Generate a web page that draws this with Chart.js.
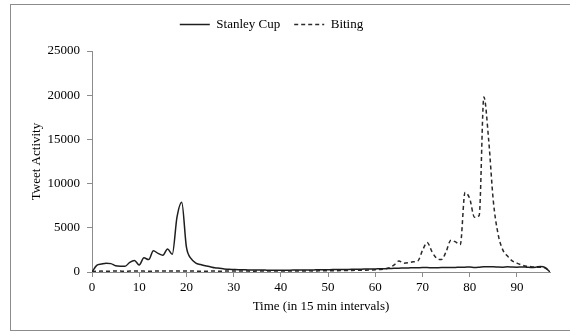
<!DOCTYPE html>
<html lang="en">
<head>
    <meta charset="UTF-8">
    <title>Tweet Activity</title>
    <script src="https://cdn.jsdelivr.net/npm/chart.js@4.4.0/dist/chart.umd.min.js"></script>
    <style>
        body { margin: 0; background: #fff; overflow: hidden; }
        .frame { position: absolute; left: 10px; top: 4px; width: 600px; height: 325px; border: 1px solid #8c8c8c; }
        .chart-box { position: absolute; left: 0; top: 0; width: 570px; height: 335px; }
    </style>
</head>
<body>
    <div class="frame"></div>
    <div class="chart-box">
        <canvas id="tweets"></canvas>
    </div>

    <script>
        // x = 15 minute interval index
        const intervals = [
            0, 1, 2, 3, 4, 5, 6, 7, 8, 9, 10, 11, 12, 13, 14, 15, 16, 17, 18, 19,
            20, 21, 22, 23, 24, 25, 26, 27, 28, 29, 30, 31, 32, 33, 34, 35, 36, 37, 38, 39,
            40, 41, 42, 43, 44, 45, 46, 47, 48, 49, 50, 51, 52, 53, 54, 55, 56, 57, 58, 59,
            60, 61, 62, 63, 64, 65, 66, 67, 68, 69, 70, 71, 72, 73, 74, 75, 76, 77, 78, 79,
            80, 81, 82, 83, 84, 85, 86, 87, 88, 89, 90, 91, 92, 93, 94, 95, 96, 97
        ];

        const stanleyCup = [
            0, 750, 900, 1000, 950, 700, 650, 650, 1100, 1300,
            800, 1600, 1400, 2400, 2100, 1900, 2600, 2000, 6200, 7900,
            2800, 1500, 1000, 850, 700, 600, 480, 420, 350, 300,
            280, 260, 250, 240, 230, 220, 220, 210, 200, 200,
            200, 210, 210, 220, 220, 230, 230, 240, 250, 250,
            260, 270, 270, 280, 290, 300, 300, 320, 330, 340,
            350, 370, 380, 400, 420, 430, 450, 460, 480, 490,
            500, 500, 480, 490, 500, 520, 500, 520, 540, 550,
            560, 520, 550, 600, 580, 600, 560, 550, 580, 560,
            550, 570, 550, 520, 550, 620, 500, 0
        ];

        const biting = [
            50, 80, 100, 90, 100, 110, 100, 90, 100, 110,
            100, 100, 90, 100, 110, 100, 100, 100, 110, 120,
            110, 100, 100, 90, 90, 100, 100, 90, 100, 100,
            100, 110, 100, 100, 90, 100, 100, 110, 100, 100,
            100, 110, 110, 120, 110, 120, 130, 120, 130, 140,
            140, 150, 150, 160, 170, 180, 190, 200, 210, 230,
            250, 280, 340, 480, 800, 1250, 1000, 1050, 1150, 1250,
            2450, 3350, 2300, 1550, 1400, 2300, 3600, 3400, 3100, 9000,
            8300, 6200, 6400, 19800, 15000, 8000, 4300, 2500, 1800, 1250,
            1000, 800, 650, 600, 550, 550, 450, 0
        ];

        const yTicks = [0, 5000, 10000, 15000, 20000, 25000];
        const xTicks = [0, 10, 20, 30, 40, 50, 60, 70, 80, 90];

        const serif = 'Liberation Serif, Times New Roman, serif';
        const axisGray = '#8c8c8c';

        function toPoints(values) {
            return values.map((v, i) => ({ x: intervals[i], y: v }));
        }

        // move the legend to where it sits in the original figure
        const nudgeLegend = {
            id: 'nudgeLegend',
            afterLayout(chart) {
                const lg = chart.legend;
                lg.left -= 16; lg.right -= 16;
                lg.top -= 10; lg.bottom -= 10;
            }
        };

        new Chart(document.getElementById('tweets'), {
            type: 'line',
            data: {
                datasets: [{
                    label: 'Stanley Cup',
                    data: toPoints(stanleyCup),
                    borderColor: '#1e1e1e',
                    borderWidth: 1.5,
                    pointRadius: 0,
                    cubicInterpolationMode: 'monotone'
                }, {
                    label: 'Biting',
                    data: toPoints(biting),
                    borderColor: '#2a2a2a',
                    borderWidth: 1.5,
                    borderDash: [4, 3],
                    pointRadius: 0,
                    cubicInterpolationMode: 'monotone'
                }]
            },
            options: {
                responsive: true,
                maintainAspectRatio: false,
                animation: false,
                layout: { padding: { left: 25, right: 20, top: 14, bottom: 17 } },
                plugins: {
                    tooltip: { enabled: false },
                    legend: {
                        position: 'top',
                        labels: {
                            usePointStyle: true,
                            pointStyle: 'line',
                            pointStyleWidth: 30,
                            padding: 14,
                            color: '#000',
                            font: { family: serif, size: 13 },
                            generateLabels(chart) {
                                const items = Chart.defaults.plugins.legend.labels.generateLabels(chart);
                                items.forEach(it => {
                                    const ds = chart.data.datasets[it.datasetIndex];
                                    it.lineDash = ds.borderDash || [];
                                    it.lineWidth = ds.borderWidth;
                                });
                                return items;
                            }
                        }
                    }
                },
                scales: {
                    x: {
                        type: 'linear',
                        min: 0,
                        max: intervals[intervals.length - 1],
                        afterFit(scale) { scale.height = 46; },
                        afterBuildTicks(scale) { scale.ticks = xTicks.map(v => ({ value: v })); },
                        grid: { drawOnChartArea: false, tickLength: 5, color: axisGray },
                        border: { color: axisGray },
                        ticks: { color: '#000', padding: 3, maxRotation: 0, font: { family: serif, size: 13 },
                                 callback: v => String(v) },
                        title: { display: true, text: 'Time (in 15 min intervals)', color: '#000', font: { family: serif, size: 13 } }
                    },
                    y: {
                        min: 0,
                        max: 25000,
                        afterFit(scale) { scale.width = 67; },
                        afterBuildTicks(scale) { scale.ticks = yTicks.map(v => ({ value: v })); },
                        grid: { drawOnChartArea: false, tickLength: 5, color: axisGray },
                        border: { color: axisGray },
                        ticks: { color: '#000', padding: 7, font: { family: serif, size: 13 },
                                 callback: v => String(v) },
                        title: { display: true, text: 'Tweet Activity', color: '#000', font: { family: serif, size: 13 } }
                    }
                }
            },
            plugins: [nudgeLegend]
        });
    </script>
</body>
</html>
